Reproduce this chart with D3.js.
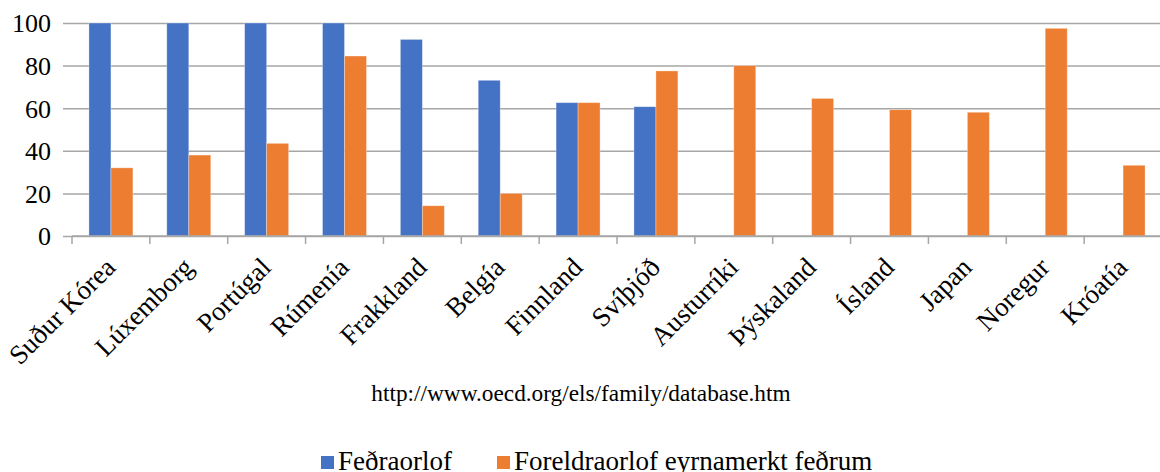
<!DOCTYPE html>
<html>
<head>
<meta charset="utf-8">
<script src="https://cdn.jsdelivr.net/npm/d3@7"></script>
<style>
  body { margin: 0; background: #fff; overflow: hidden; }
  svg text { font-family: "Liberation Serif", "Times New Roman", serif; fill: #000; }
</style>
</head>
<body>
<svg id="chart" width="1160" height="472"></svg>
<script>
const countries = ['Suður Kórea', 'Lúxemborg', 'Portúgal', 'Rúmenía', 'Frakkland', 'Belgía', 'Finnland',
  'Svíþjóð', 'Austurríki', 'Þýskaland', 'Ísland', 'Japan', 'Noregur', 'Króatía'];
const seriesNames = ['Feðraorlof', 'Foreldraorlof eyrnamerkt feðrum'];
const fathersLeave = [100, 100, 100, 100, 92.3, 73.1, 62.6, 60.7, null, null, null, null, null, null];
const earmarkedLeave = [32, 38, 43.5, 84.5, 14.2, 20, 62.6, 77.5, 80, 64.6, 59.3, 58.1, 97.5, 33.2];
const yTicks = [0, 20, 40, 60, 80, 100];
const colors = ['#4472C4', '#ED7D31'];
const sourceText = 'http://www.oecd.org/els/family/database.htm';

const svg = d3.select('#chart');
const margin = { top: 23, left: 72, right: 1162, bottom: 236 };

const x0 = d3.scaleBand()
  .domain(countries)
  .range([margin.left, margin.right])
  .padding(0);

const x1 = d3.scaleBand()
  .domain(seriesNames)
  .range([0, x0.bandwidth()])
  .paddingInner(0)
  .paddingOuter(0.77);

const y = d3.scaleLinear()
  .domain([0, 100])
  .range([margin.bottom, margin.top]);

// gridlines + y labels
const yAxis = svg.append('g')
  .attr('transform', `translate(${margin.left},0)`)
  .call(d3.axisLeft(y).tickValues(yTicks).tickSize(-(1160 - margin.left)).tickSizeOuter(0).tickPadding(21))
  .attr('font-family', null);
yAxis.select('.domain').remove();
yAxis.selectAll('line')
  .attr('x1', -9)
  .attr('stroke', '#a6a6a6')
  .attr('stroke-width', 1.5);
yAxis.selectAll('text')
  .style('font-family', '"Liberation Serif", serif')
  .attr('font-size', 26)
  .attr('dy', '0.34em');

// bars
const data = countries.map((c, i) => ({ country: c, values: [fathersLeave[i], earmarkedLeave[i]] }));

const groups = svg.append('g')
  .selectAll('g')
  .data(data)
  .enter().append('g')
  .attr('transform', d => `translate(${x0(d.country)},0)`);

groups.selectAll('rect')
  .data(d => d.values.map((v, j) => ({ key: seriesNames[j], value: v, j })).filter(e => e.value != null))
  .enter().append('rect')
  .attr('x', d => x1(d.key))
  .attr('y', d => y(d.value))
  .attr('width', x1.bandwidth())
  .attr('height', d => y(0) - y(d.value))
  .attr('fill', d => colors[d.j])
  .attr('stroke', '#fff')
  .attr('stroke-opacity', 0.4)
  .attr('stroke-width', 0.8);

// x axis with ticks at category boundaries
const xAxisG = svg.append('g');
xAxisG.append('line')
  .attr('x1', margin.left).attr('x2', 1160)
  .attr('y1', y(0)).attr('y2', y(0))
  .attr('stroke', '#a6a6a6').attr('stroke-width', 1.5);
xAxisG.selectAll('.tick')
  .data(countries)
  .enter().append('line')
  .attr('x1', d => x0(d)).attr('x2', d => x0(d))
  .attr('y1', y(0)).attr('y2', y(0) + 8)
  .attr('stroke', '#a6a6a6').attr('stroke-width', 1.5);

xAxisG.selectAll('.label')
  .data(countries)
  .enter().append('text')
  .attr('transform', d => `translate(${x0(d) + x0.bandwidth() / 2 + 6},${y(0) + 33}) rotate(-45)`)
  .attr('text-anchor', 'end')
  .attr('font-size', 27)
  .text(d => d);

// source
svg.append('text')
  .attr('x', 581)
  .attr('y', 401)
  .attr('text-anchor', 'middle')
  .attr('font-size', 23.3)
  .text(sourceText);

// legend
const legendX = [321, 497];
const legend = svg.append('g');
seriesNames.forEach((name, i) => {
  legend.append('rect')
    .attr('x', legendX[i]).attr('y', 456)
    .attr('width', 13).attr('height', 13)
    .attr('fill', colors[i]);
  legend.append('text')
    .attr('x', legendX[i] + 17).attr('y', 470)
    .attr('font-size', 27)
    .text(name);
});
</script>
</body>
</html>
